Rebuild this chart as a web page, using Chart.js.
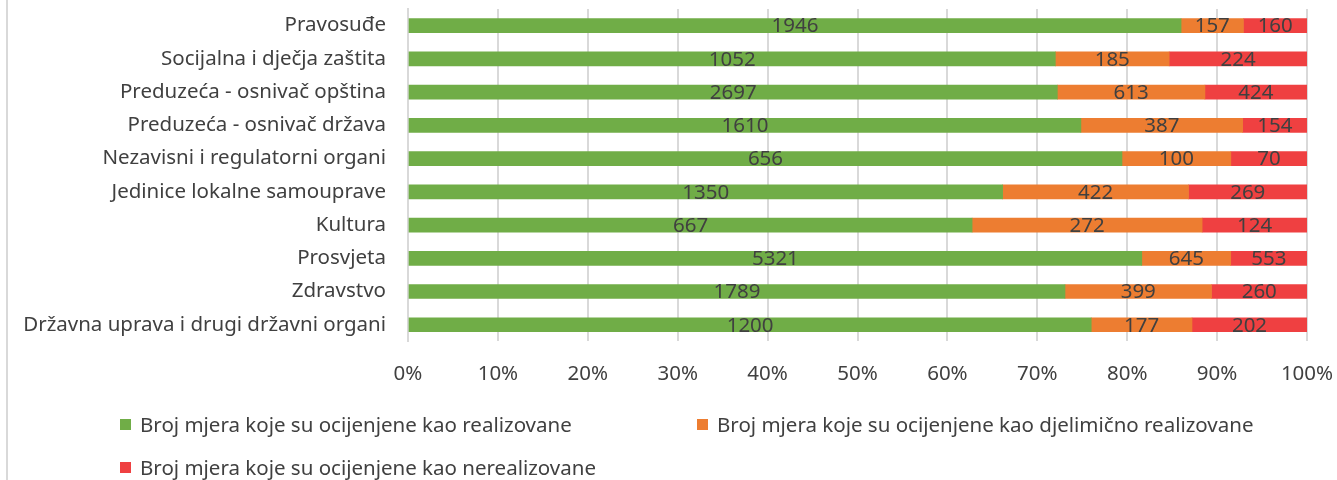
<!DOCTYPE html>
<html><head><meta charset="utf-8">
<script src="https://cdn.jsdelivr.net/npm/chart.js@4/dist/chart.umd.min.js"></script>
<style>
html,body{margin:0;padding:0;background:#fff;}
#wrap{position:relative;width:1337px;height:480px;overflow:hidden;}
#border{position:absolute;left:6px;top:0;width:0;height:480px;border-left:2px solid #d9d9d9;}
canvas{position:absolute;left:0;top:0;}
.leg{position:absolute;font-family:"Noto Sans",sans-serif;font-size:20.5px;color:#404040;white-space:nowrap;line-height:24px;height:24px;}
.leg span.sw{position:absolute;left:0;top:7px;width:11px;height:11px;}
.leg span.tx{position:absolute;left:20px;top:0;}
</style></head>
<body><div id="wrap"><div id="border"></div><canvas id="c" width="1337" height="480"></canvas>
<div class="leg" style="left:120px;top:412px"><span class="sw" style="background:#70AD47"></span><span class="tx" id="l0"></span></div>
<div class="leg" style="left:697px;top:412px"><span class="sw" style="background:#ED7D31"></span><span class="tx" id="l1"></span></div>
<div class="leg" style="left:120px;top:455px"><span class="sw" style="background:#EF4041"></span><span class="tx" id="l2"></span></div>
</div>
<script>
const categories = ["Pravosuđe","Socijalna i dječja zaštita","Preduzeća - osnivač opština","Preduzeća - osnivač država","Nezavisni i regulatorni organi","Jedinice lokalne samouprave","Kultura","Prosvjeta","Zdravstvo","Državna uprava i drugi državni organi"];
const realizovane = [1946,1052,2697,1610,656,1350,667,5321,1789,1200];
const djelimicno = [157,185,613,387,100,422,272,645,399,177];
const nerealizovane = [160,224,424,154,70,269,124,553,260,202];
const seriesNames = ["Broj mjera koje su ocijenjene kao realizovane","Broj mjera koje su ocijenjene kao djelimično realizovane","Broj mjera koje su ocijenjene kao nerealizovane"];
const tickLabels = ["0%","10%","20%","30%","40%","50%","60%","70%","80%","90%","100%"];

seriesNames.forEach((n, k) => { document.getElementById('l' + k).textContent = n; });

const raw = [realizovane, djelimicno, nerealizovane];
const totals = categories.map((_, i) => raw.reduce((s, a) => s + a[i], 0));
const pct = raw.map(a => a.map((v, i) => v / totals[i] * 100));
const colors = ["#70AD47","#ED7D31","#EF4041"];
const FONT = 'Noto Sans';

const labelPlugin = {
  id: 'segLabels',
  afterDatasetsDraw(chart) {
    const ctx = chart.ctx;
    ctx.save();
    ctx.font = '20.5px "Noto Sans", sans-serif';
    ctx.fillStyle = '#404040';
    ctx.textAlign = 'center';
    ctx.textBaseline = 'middle';
    chart.data.datasets.forEach((ds, di) => {
      const meta = chart.getDatasetMeta(di);
      meta.data.forEach((bar, i) => {
        const x = (bar.x + bar.base) / 2;
        ctx.fillText(String(raw[di][i]), x, bar.y + 1);
      });
    });
    ctx.restore();
  }
};

new Chart(document.getElementById('c'), {
  type: 'bar',
  data: {
    labels: categories,
    datasets: seriesNames.map((n, k) => ({
      label: n, data: pct[k], backgroundColor: colors[k], barThickness: 14, borderWidth: 0
    }))
  },
  options: {
    indexAxis: 'y',
    responsive: false,
    animation: false,
    layout: { padding: { top: 9, right: 30, bottom: 74, left: 0 } },
    plugins: { legend: { display: false }, tooltip: { enabled: false } },
    scales: {
      x: {
        stacked: true, min: 0, max: 100,
        ticks: { stepSize: 10, padding: 20, color: '#404040', font: { family: FONT, size: 20.5 },
          maxRotation: 0, callback: (v, i) => tickLabels[i] },
        grid: { color: '#d9d9d9', lineWidth: 2, drawTicks: false },
        border: { display: false },
        afterFit: (s) => { s.paddingLeft = 0; s.paddingRight = 0; }
      },
      y: {
        stacked: true,
        ticks: { color: '#404040', padding: 22, font: { family: FONT, size: 20.5 } },
        grid: { display: false, drawTicks: false },
        border: { display: true, color: '#d9d9d9', width: 2 },
        afterFit: (s) => { s.width = 408; s.paddingTop = 0; s.paddingBottom = 0; }
      }
    }
  },
  plugins: [labelPlugin]
});
</script></body></html>
